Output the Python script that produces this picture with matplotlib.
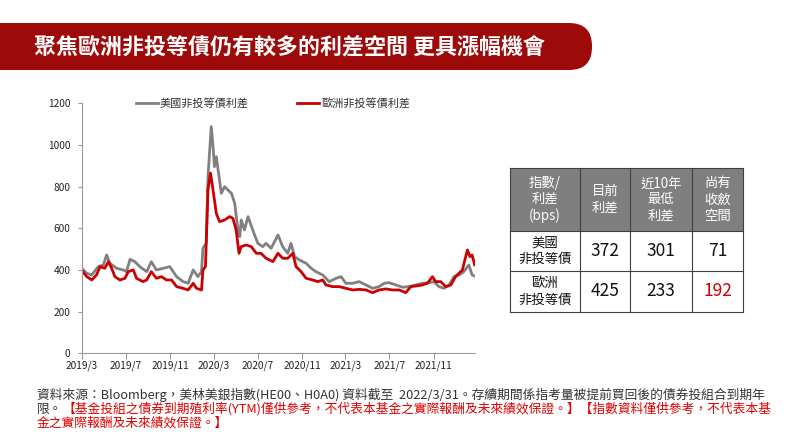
import matplotlib
matplotlib.use('Agg')
import matplotlib.pyplot as plt
from matplotlib.patches import FancyBboxPatch, Rectangle
import pandas as pd

plt.rcParams['font.family'] = ['Noto Sans CJK TC', 'DejaVu Sans']

# spread series (bps)
us_dates = ['2019-03-01', '2019-03-15', '2019-03-29', '2019-04-16', '2019-04-30', '2019-05-09',
            '2019-05-18', '2019-06-06', '2019-06-24', '2019-07-03', '2019-07-13', '2019-07-26',
            '2019-08-09', '2019-08-28', '2019-09-10', '2019-09-24', '2019-10-13', '2019-10-31',
            '2019-11-19', '2019-12-07', '2019-12-21', '2020-01-04', '2020-01-17', '2020-01-27',
            '2020-01-31', '2020-02-09', '2020-02-14', '2020-02-23', '2020-02-28', '2020-03-03',
            '2020-03-08', '2020-03-13', '2020-03-22', '2020-03-31', '2020-04-09', '2020-04-19',
            '2020-04-28', '2020-05-07', '2020-05-12', '2020-05-16', '2020-05-25', '2020-06-04',
            '2020-06-17', '2020-07-01', '2020-07-15', '2020-07-24', '2020-08-07', '2020-08-26',
            '2020-09-08', '2020-09-22', '2020-10-01', '2020-10-11', '2020-10-24', '2020-11-12',
            '2020-11-26', '2020-12-09', '2020-12-28', '2021-01-15', '2021-02-03', '2021-02-17',
            '2021-03-02', '2021-03-21', '2021-04-08', '2021-04-27', '2021-05-15', '2021-06-02',
            '2021-06-16', '2021-06-30', '2021-07-19', '2021-08-06', '2021-08-24', '2021-09-12',
            '2021-09-30', '2021-10-19', '2021-11-01', '2021-11-15', '2021-11-29', '2021-12-13',
            '2021-12-27', '2022-01-10', '2022-01-23', '2022-02-06', '2022-02-15', '2022-02-20']
us_spread = [408, 384, 376, 416, 424, 472, 432, 408, 400, 392, 451, 440,
             416, 392, 440, 400, 408, 416, 368, 344, 336, 400, 368, 392,
             504, 528, 848, 1088, 992, 896, 944, 880, 768, 800, 784, 768,
             720, 592, 560, 640, 592, 656, 592, 528, 512, 528, 504, 568,
             512, 480, 528, 464, 448, 432, 408, 392, 376, 344, 360, 368,
             336, 336, 344, 328, 312, 320, 336, 339, 328, 317, 320, 328,
             336, 339, 344, 320, 312, 328, 368, 376, 392, 424, 376, 372]

eu_dates = ['2019-03-01', '2019-03-15', '2019-03-29', '2019-04-11', '2019-04-21', '2019-05-04',
            '2019-05-14', '2019-05-23', '2019-06-01', '2019-06-15', '2019-06-29', '2019-07-08',
            '2019-07-22', '2019-07-31', '2019-08-18', '2019-08-28', '2019-09-10', '2019-09-24',
            '2019-10-08', '2019-10-22', '2019-11-05', '2019-11-19', '2019-12-07', '2019-12-21',
            '2020-01-04', '2020-01-13', '2020-01-27', '2020-01-31', '2020-02-07', '2020-02-14',
            '2020-02-21', '2020-02-28', '2020-03-08', '2020-03-17', '2020-03-31', '2020-04-14',
            '2020-04-23', '2020-05-02', '2020-05-10', '2020-05-16', '2020-05-30', '2020-06-13',
            '2020-06-27', '2020-07-10', '2020-07-24', '2020-08-12', '2020-08-26', '2020-09-08',
            '2020-09-22', '2020-10-06', '2020-10-15', '2020-10-29', '2020-11-12', '2020-11-30',
            '2020-12-14', '2020-12-28', '2021-01-06', '2021-01-24', '2021-02-12', '2021-03-02',
            '2021-03-21', '2021-04-08', '2021-04-27', '2021-05-15', '2021-06-02', '2021-06-21',
            '2021-07-09', '2021-07-28', '2021-08-15', '2021-08-29', '2021-09-12', '2021-09-30',
            '2021-10-14', '2021-10-28', '2021-11-06', '2021-11-20', '2021-12-04', '2021-12-18',
            '2021-12-31', '2022-01-19', '2022-02-02', '2022-02-09', '2022-02-15', '2022-02-22']
eu_spread = [400, 368, 352, 376, 416, 408, 440, 408, 368, 352, 360, 392,
             400, 360, 344, 352, 392, 360, 368, 352, 352, 320, 312, 304,
             336, 312, 304, 400, 416, 784, 865, 784, 672, 632, 640, 656,
             648, 592, 480, 512, 520, 512, 480, 480, 456, 440, 480, 456,
             456, 480, 416, 392, 360, 352, 344, 352, 328, 320, 320, 312,
             304, 307, 304, 291, 304, 309, 304, 304, 291, 320, 323, 328,
             336, 368, 344, 344, 320, 328, 368, 400, 496, 464, 472, 425]

tick_dates = ['2019-03-01', '2019-07-01', '2019-11-01', '2020-03-01', '2020-07-01',
              '2020-11-01', '2021-03-01', '2021-07-01', '2021-11-01']
tick_labels = ['2019/3', '2019/7', '2019/11', '2020/3', '2020/7',
               '2020/11', '2021/3', '2021/7', '2021/11']

# table
table_header = ['指數/\n利差\n(bps)', '目前\n利差', '近10年\n最低\n利差', '尚有\n收斂\n空間']
row_names = ['美國\n非投等債', '歐洲\n非投等債']
current = [372, 425]
low_10y = [301, 233]
room = [71, 192]

title = '聚焦歐洲非投等債仍有較多的利差空間 更具漲幅機會'
note1 = '資料來源：Bloomberg，美林美銀指數(HE00、H0A0) 資料截至  2022/3/31。存續期間係指考量被提前買回後的債券投組合到期年'
note2a = '限。'
note2b = '【基金投組之債券到期殖利率(YTM)僅供參考，不代表本基金之實際報酬及未來績效保證。】【指數資料僅供參考，不代表本基'
note3 = '金之實際報酬及未來績效保證。】'

fig = plt.figure(figsize=(8, 4.4), dpi=100)

# overlay in pixel units for banner, table and notes
bg = fig.add_axes([0, 0, 1, 1])
bg.set_xlim(0, 800)
bg.set_ylim(440, 0)
bg.axis('off')

bg.add_patch(FancyBboxPatch((-40, 23), 632, 47, boxstyle='round,pad=0,rounding_size=23',
                            fc='#9e0a0a', ec='none'))
bg.text(34, 47, title, color='white', fontsize=15.8, fontweight='bold', va='center', ha='left')

col_x = [510, 580, 630, 692, 743]
row_y = [168, 231, 271, 312]
bg.add_patch(Rectangle((col_x[0], row_y[0]), col_x[-1] - col_x[0], row_y[1] - row_y[0],
                       fc='#7f7f7f', ec='none'))
for x in col_x:
    bg.plot([x, x], [row_y[0], row_y[-1]], color='#404040', lw=0.8)
for y in row_y:
    bg.plot([col_x[0], col_x[-1]], [y, y], color='#404040', lw=0.8)
for i, h in enumerate(table_header):
    bg.text((col_x[i] + col_x[i + 1]) / 2, (row_y[0] + row_y[1]) / 2, h, color='white',
            fontsize=9.6, ha='center', va='center', linespacing=1.2)
for r in range(2):
    cy = (row_y[r + 1] + row_y[r + 2]) / 2
    bg.text((col_x[0] + col_x[1]) / 2, cy, row_names[r], fontsize=9.6, color='#111',
            ha='center', va='center', linespacing=1.2)
    vals = [current[r], low_10y[r], room[r]]
    for c, v in enumerate(vals):
        clr = '#cc0000' if (r == 1 and c == 2) else '#111'
        bg.text((col_x[c + 1] + col_x[c + 2]) / 2, cy, str(v), fontsize=12.5, color=clr,
                ha='center', va='center')

fs = 9.2
bg.text(37, 395, note1, fontsize=fs, color='#333', va='center', ha='left')
t2 = bg.text(37, 409, note2a, fontsize=fs, color='#333', va='center', ha='left')
fig.canvas.draw()
ext = t2.get_window_extent(fig.canvas.get_renderer())
bg.text(37 + ext.width, 409, note2b, fontsize=fs, color='#e00000', va='center', ha='left')
bg.text(37, 423, note3, fontsize=fs, color='#e00000', va='center', ha='left')

# chart
ax = fig.add_axes([81.7 / 800, (440 - 353.3) / 440, (475 - 81.7) / 800, 250 / 440])
ax.plot(pd.to_datetime(us_dates), us_spread, color='#808080', lw=2.0, label='美國非投等債利差')
ax.plot(pd.to_datetime(eu_dates), eu_spread, color='#cc0000', lw=2.0, label='歐洲非投等債利差')
ax.set_ylim(0, 1200)
ax.set_yticks(range(0, 1201, 200))
ax.set_xlim(pd.Timestamp('2019-03-01'), pd.Timestamp('2022-02-23'))
ax.set_xticks(pd.to_datetime(tick_dates))
ax.set_xticklabels(tick_labels)
for s in ['top', 'right']:
    ax.spines[s].set_visible(False)
for s in ['left', 'bottom']:
    ax.spines[s].set_color('#999999')
    ax.spines[s].set_linewidth(0.8)
ax.tick_params(axis='both', colors='#999999', labelcolor='#222222', labelsize=7.3, width=0.8)
ax.tick_params(axis='y', length=3, pad=5)
ax.tick_params(axis='x', length=4, pad=1)
ax.legend(loc='center', bbox_to_anchor=(0.486, 1.0), ncol=2, frameon=False, fontsize=8,
          handlelength=2.0, handletextpad=0.2, columnspacing=4.3, labelcolor='#333')

fig.savefig('out.png', dpi=100)
